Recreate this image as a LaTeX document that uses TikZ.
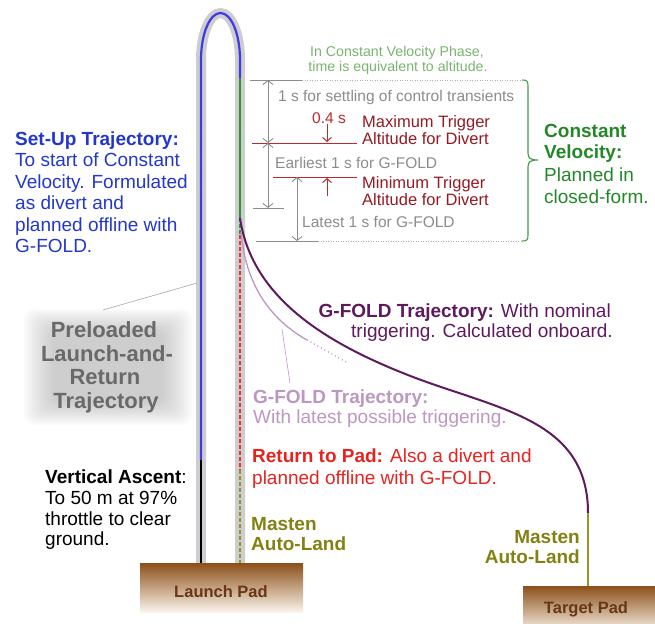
\documentclass[tikz,border=0pt]{standalone}
\usepackage{fontspec}
\setmainfont{Liberation Sans}
\usetikzlibrary{arrows.meta}

\definecolor{shadowgray}{RGB}{205,205,208}
\definecolor{legblue}{RGB}{60,60,225}
\definecolor{leggreen}{RGB}{45,150,45}
\definecolor{legred}{RGB}{230,50,50}
\definecolor{legolive}{RGB}{150,150,40}
\definecolor{txtblue}{RGB}{35,55,205}
\definecolor{txtgreen}{RGB}{35,135,40}
\definecolor{lightgreen}{RGB}{120,180,110}
\definecolor{dimgray}{RGB}{140,140,140}
\definecolor{darkred}{RGB}{150,25,35}
\definecolor{midred}{RGB}{190,40,45}
\definecolor{retred}{RGB}{230,35,30}
\definecolor{olivetxt}{RGB}{130,130,20}
\definecolor{nompurple}{RGB}{95,25,95}
\definecolor{latepurple}{RGB}{190,150,195}
\definecolor{preloadgray}{RGB}{105,105,105}
\definecolor{padtop}{RGB}{140,80,25}
\definecolor{padbot}{RGB}{250,244,235}
\definecolor{padtxt}{RGB}{105,55,20}

\begin{document}
\begin{tikzpicture}[x=1pt,y=-1pt,
  txt/.style={inner sep=0pt, anchor=base west},
  txtr/.style={inner sep=0pt, anchor=base east},
  txtc/.style={inner sep=0pt, anchor=base},
  big/.style={font=\fontsize{19}{21}\selectfont},
  small/.style={font=\fontsize{15.5}{17}\selectfont, text=dimgray},
  trig/.style={font=\fontsize{16.5}{17}\selectfont, text=darkred},
  dimline/.style={draw=dimgray, line width=0.9pt},
  dimdots/.style={draw=dimgray!70, line width=0.8pt, dash pattern=on 1pt off 1.5pt},
  dimarrow/.style={draw=dimgray, line width=0.9pt,
    {Straight Barb[length=4pt,width=10pt]}-{Straight Barb[length=4pt,width=10pt]}},
  redarrow/.style={draw=midred, line width=1pt, -{Straight Barb[length=4pt,width=9pt]}},
  leg/.style={line width=2.2pt},
  legdash/.style={line width=2.2pt, dash pattern=on 4pt off 2pt},
  leader/.style={draw=gray!70, line width=0.6pt}]
\useasboundingbox (0,0) rectangle (655,623);

% ---------- key points of the launch-and-return loop ----------
\coordinate (lbot) at (201,565);
\coordinate (lasc) at (201,460);
\coordinate (ltop) at (201,60);
\coordinate (apex) at (220.5,13);
\coordinate (rtop) at (240,60);
\coordinate (cvtop) at (240,78);
\coordinate (div) at (240,218);
\coordinate (rtp) at (240,235);
\coordinate (mal) at (240,470);
\coordinate (rbot) at (240,565);

% soft glow behind the preloaded-trajectory label
\foreach \i in {0,...,11}
  \fill[gray, opacity=0.04, rounded corners=10pt]
    (24+\i*2.6,309+\i*2) rectangle (192-\i*2.6,425-\i*2);

% gray band under the whole loop
\draw[shadowgray, line width=10pt]
  (lbot) -- (ltop) .. controls (201,34) and (209.7,13) .. (apex)
  .. controls (231.3,13) and (240,34) .. (rtop) -- (rbot);

% coloured legs
\draw[leg, black] (lbot) -- (lasc);
\draw[leg, legblue] (lasc) -- (ltop) .. controls (201,34) and (209.7,13) .. (apex)
  .. controls (231.3,13) and (240,34) .. (rtop) -- (cvtop);
\draw[leg, leggreen] (cvtop) -- (div);
\draw[legdash, leggreen] (div) -- (rtp);
\draw[legdash, legred] (rtp) -- (mal);
\draw[legdash, legolive] (mal) -- (rbot);

% ---------- pads ----------
\shade[top color=padtop, bottom color=padbot] (140,563) rectangle (303,612);
\node[txtc, font=\bfseries\fontsize{16.5}{17}\selectfont, text=padtxt] (lpad) at (221,597) {Launch Pad};
\shade[top color=padtop, bottom color=padbot] (523,586) rectangle (655,632);
\node[txtc, font=\bfseries\fontsize{16.5}{17}\selectfont, text=padtxt] (tpad) at (586,613) {Target Pad};

% ---------- G-FOLD trajectories ----------
\coordinate (tgt) at (588,513);
\coordinate (tgtpad) at (588,586);
\coordinate (latestart) at (241,232);
\coordinate (lateend) at (307,340);
\coordinate (latedots) at (348,363);
\draw[nompurple, line width=2pt] (div) .. controls (252,300) and (330,345) .. (413,377)
  .. controls (500,410) and (588,420) .. (tgt);
\draw[legolive, line width=1.8pt] (tgt) -- (tgtpad);
\draw[latepurple, line width=1.3pt] (latestart) .. controls (246,290) and (275,322) .. (lateend);
\draw[latepurple, line width=1.3pt, dash pattern=on 1pt off 3pt] (lateend) .. controls (322,348) and (335,356) .. (latedots);

% ---------- timing marks in the constant-velocity phase ----------
\coordinate (h1a) at (250,80);   \coordinate (h1b) at (302,80);  \coordinate (h1c) at (521,80);
\coordinate (h2a) at (252,143);  \coordinate (h2b) at (357,143);
\coordinate (h3a) at (273,177);  \coordinate (h3b) at (357,177);
\coordinate (h4a) at (253,208);  \coordinate (h4b) at (284,208);
\coordinate (h5a) at (256,241);  \coordinate (h5b) at (318,241);  \coordinate (h5c) at (521,241);
\draw[dimline] (h1a) -- (h1b);  \draw[dimdots] (h1b) -- (h1c);
\draw[draw=midred, line width=1pt] (h2a) -- (h2b);
\draw[draw=midred, line width=1pt] (h3a) -- (h3b);
\draw[dimline] (h4a) -- (h4b);
\draw[dimline] (h5a) -- (h5b);  \draw[dimdots] (h5b) -- (h5c);

\coordinate (d1a) at (268,80);   \coordinate (d1b) at (268,143);
\coordinate (d2a) at (268,143);  \coordinate (d2b) at (268,208);
\coordinate (d3a) at (297,177);  \coordinate (d3b) at (297,241);
\draw[dimarrow] (d1a) -- (d1b);
\draw[dimarrow] (d2a) -- (d2b);
\draw[dimarrow] (d3a) -- (d3b);

\coordinate (r1a) at (327,124);  \coordinate (r1b) at (327,142);
\coordinate (r2a) at (327,196);  \coordinate (r2b) at (327,178);
\draw[redarrow] (r1a) -- (r1b);
\draw[redarrow] (r2a) -- (r2b);

% brace around the constant-velocity phase
\draw[txtgreen!85, line width=1.1pt]
  (522,80) .. controls (527,80) and (528,81) .. (528,86) -- (528,153)
  .. controls (528,158) and (530,160) .. (538,160)
  .. controls (530,160) and (528,162) .. (528,167) -- (528,235)
  .. controls (528,240) and (527,241) .. (522,241);

% ---------- labels: constant-velocity phase ----------
\node[txtc, font=\fontsize{14.2}{15}\selectfont, text=lightgreen] (cv1) at (397,57) {In Constant Velocity Phase,};
\node[txtc, font=\fontsize{14.2}{15}\selectfont, text=lightgreen] (cv2) at (398,72) {time is equivalent to altitude.};
\node[txt, small] (settle) at (278,102) {1 s for settling of control transients};
\node[txt, font=\fontsize{15.5}{17}\selectfont, text=midred] (pt4) at (312,123) {0.4 s};
\node[txt, trig] (max1) at (362,127) {Maximum Trigger};
\node[txt, trig] (max2) at (362,144) {Altitude for Divert};
\node[txt, small] (early) at (275,168) {Earliest 1 s for G-FOLD};
\node[txt, trig] (min1) at (362,188) {Minimum Trigger};
\node[txt, trig] (min2) at (362,205) {Altitude for Divert};
\node[txt, small] (late) at (302,227) {Latest 1 s for G-FOLD};

\node[txt, big, text=txtgreen] (cvl1) at (544,137) {\bfseries Constant};
\node[txt, big, text=txtgreen] (cvl2) at (544,158) {\bfseries Velocity:};
\node[txt, big, text=txtgreen] (cvl3) at (544,181) {Planned in};
\node[txt, big, text=txtgreen] (cvl4) at (544,203) {closed-form.};

% ---------- labels: set-up trajectory ----------
\node[txt, big, text=txtblue] (su1) at (15,145) {\bfseries Set-Up Trajectory:};
\node[txt, big, text=txtblue] (su2) at (15,166.5) {To start of Constant};
\node[txt, big, text=txtblue] (su3) at (15,188) {Velocity. Formulated};
\node[txt, big, text=txtblue] (su4) at (15,209.5) {as divert and};
\node[txt, big, text=txtblue] (su5) at (15,231) {planned offline with};
\node[txt, big, text=txtblue] (su6) at (15,252.5) {G-FOLD.};

% ---------- labels: preloaded trajectory ----------
\coordinate (plfoot) at (103,310);
\coordinate (plhead) at (197,283);
\draw[leader] (plfoot) -- (plhead);
\node[txtc, font=\bfseries\fontsize{22}{24}\selectfont, text=preloadgray] (pl1) at (104,337) {Preloaded};
\node[txtc, font=\bfseries\fontsize{22}{24}\selectfont, text=preloadgray] (pl2) at (107,361) {Launch-and-};
\node[txtc, font=\bfseries\fontsize{22}{24}\selectfont, text=preloadgray] (pl3) at (105,384) {Return};
\node[txtc, font=\bfseries\fontsize{22}{24}\selectfont, text=preloadgray] (pl4) at (106,408) {Trajectory};

% ---------- labels: vertical ascent ----------
\node[txt, big] (va1) at (45,483) {\textbf{Vertical Ascent}:};
\node[txt, big] (va2) at (45,504) {To 50 m at 97\%};
\node[txt, big] (va3) at (45,525) {throttle to clear};
\node[txt, big] (va4) at (45,545.5) {ground.};

% ---------- labels: G-FOLD trajectories ----------
\node[txtr, big, text=nompurple] (nom1) at (611,317) {\textbf{G-FOLD Trajectory:} With nominal};
\node[txtr, big, text=nompurple] (nom2) at (613,337) {triggering. Calculated onboard.};

\coordinate (lateleadtop) at (282,329);
\coordinate (lateleadbot) at (290,383);
\draw[draw=latepurple, line width=0.6pt] (lateleadtop) -- (lateleadbot);
\node[txt, big, text=latepurple] (lt1) at (253,403) {\bfseries G-FOLD Trajectory:};
\node[txt, big, text=latepurple] (lt2) at (253,423) {With latest possible triggering.};

% ---------- labels: return to pad and auto-land ----------
\node[txt, big, text=retred] (rp1) at (252,462) {\textbf{Return to Pad:} Also a divert and};
\node[txt, big, text=retred] (rp2) at (252,484) {planned offline with G-FOLD.};

\node[txt, big, text=olivetxt] (ml1) at (251,530) {\bfseries Masten};
\node[txt, big, text=olivetxt] (ml2) at (251,550) {\bfseries Auto-Land};
\node[txtr, big, text=olivetxt] (mr1) at (580,543) {\bfseries Masten};
\node[txtr, big, text=olivetxt] (mr2) at (580,563) {\bfseries Auto-Land};
\end{tikzpicture}
\end{document}
